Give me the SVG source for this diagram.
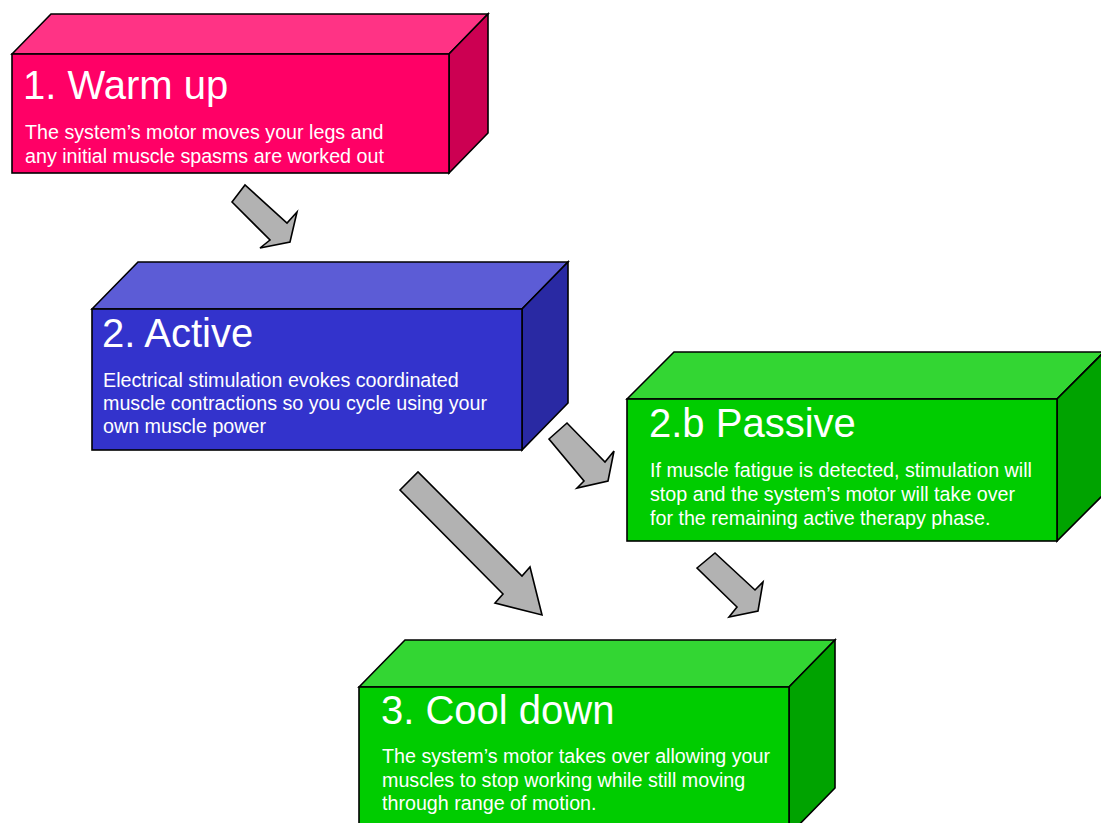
<svg xmlns="http://www.w3.org/2000/svg" width="1101" height="823" viewBox="0 0 1101 823">
<style>
.e{stroke:#000;stroke-width:1.6;stroke-linejoin:miter}
.t{font-family:"Liberation Sans",Arial,sans-serif;fill:#fff;font-size:40px}
.b{font-family:"Liberation Sans",Arial,sans-serif;fill:#fff;font-size:19.7px}
.ar{fill:#b2b2b2;stroke:#000;stroke-width:1.6;stroke-linejoin:miter}
.pf{fill:#ff0066}.pt{fill:#ff3385}.pr{fill:#cc0052}
.bf{fill:#3333cc}.bt{fill:#5c5cd6}.br{fill:#2929a3}
.gf{fill:#00cc00}.gt{fill:#33d633}.gr{fill:#00a300}
</style>
<rect width="1101" height="823" fill="#fff"/>
<g id="connectors">
<polygon class="ar" points="232,202 245,185 287,223 297,212 290,242 260,248 270,240"/>
<polygon class="ar" points="549,439 567,423 605,462 614,451 608,481 577,488 584,481"/>
<polygon class="ar" points="400,490 418,472 522,576 530,567 542,615 495,603 503,594"/>
<polygon class="ar" points="697,568 715,553 755,590 763,582 758,611 729,617 737,607"/>
</g>
<g id="node-warmup">
<polygon class="e pt" points="12,54 51,14 488,14 449,54"/>
<polygon class="e pr" points="449,54 488,14 488,133 449,173"/>
<rect class="e pf" x="12" y="54" width="437" height="119"/>
<text class="t" x="23" y="99">1. Warm up</text>
<text class="b" x="25" y="139">The system’s motor moves your legs and</text>
<text class="b" x="25" y="163">any initial muscle spasms are worked out</text>
</g>
<g id="node-active">
<polygon class="e bt" points="92,309 138,262 568,262 522,309"/>
<polygon class="e br" points="522,309 568,262 568,403 522,450"/>
<rect class="e bf" x="92" y="309" width="430" height="141"/>
<text class="t" x="102" y="347">2. Active</text>
<text class="b" x="103" y="387">Electrical stimulation evokes coordinated</text>
<text class="b" x="103" y="410">muscle contractions so you cycle using your</text>
<text class="b" x="103" y="433">own muscle power</text>
</g>
<g id="node-passive">
<polygon class="e gt" points="627,399 674,352 1104,352 1057,399"/>
<polygon class="e gr" points="1057,399 1104,352 1104,494 1057,541"/>
<rect class="e gf" x="627" y="399" width="430" height="142"/>
<text class="t" x="649" y="437">2.b Passive</text>
<text class="b" x="650" y="477">If muscle fatigue is detected, stimulation will</text>
<text class="b" x="650" y="501">stop and the system’s motor will take over</text>
<text class="b" x="650" y="525">for the remaining active therapy phase.</text>
</g>
<g id="node-cooldown">
<polygon class="e gt" points="359,687 405,640 835,640 789,687"/>
<polygon class="e gr" points="789,687 835,640 835,788 789,835"/>
<rect class="e gf" x="359" y="687" width="430" height="148"/>
<text class="t" x="381" y="724">3. Cool down</text>
<text class="b" x="382" y="763">The system’s motor takes over allowing your</text>
<text class="b" x="382" y="787">muscles to stop working while still moving</text>
<text class="b" x="382" y="810">through range of motion.</text>
</g>
</svg>
